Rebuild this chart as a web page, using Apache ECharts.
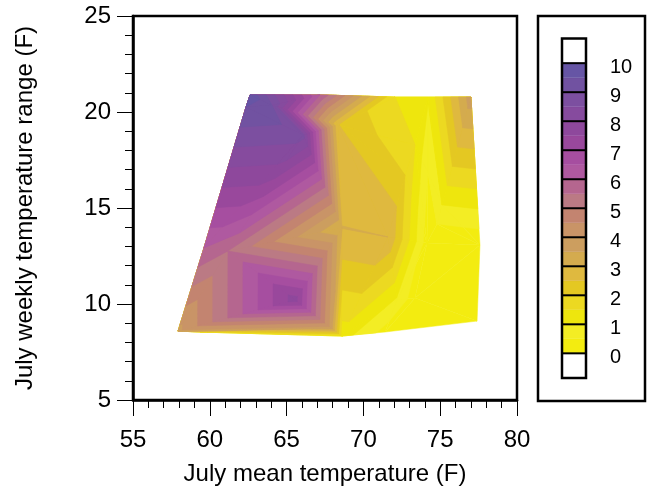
<!DOCTYPE html>
<html>
<head>
<meta charset="utf-8">
<style>html,body{margin:0;padding:0;background:#fff}#c{width:663px;height:489px}</style>
<script src="https://cdn.jsdelivr.net/npm/echarts@6/dist/echarts.min.js"></script>
</head>
<body>
<div id="c"></div>
<script>
// Surface samples: July mean temp (F), weekly range (F), contoured value
const nodeX = [62.62,67.17,72.06,74.21,77.0,62.36,64.05,66.07,68.35,73.36,72.71,74.21,75.12,74.79,59.62,61.18,68.61,71.60,74.14,77.59,65.55,72.19,73.36,77.40,71.41,68.61,67.89,59.36,57.93];
const nodeY = [20.89,20.89,20.78,20.78,20.78,20.26,20.36,18.80,19.32,18.28,16.72,16.82,15.16,14.17,12.92,12.76,13.96,13.49,13.18,13.07,10.21,10.21,10.31,9.11,8.54,8.33,8.75,8.54,8.59];
const nodeZ = [9.9,6,1.5,1.05,3.8,9.5,9.0,8.7,2.52,1.5,2,0.5,1,0.5,6,5.5,3.01,3.0,0.25,0.1,7.73,0.93,0.2,0.1,0.3,1.25,3.8,1.9,3.85];
const triangles = [
 [5,0,6],[0,6,1],[6,8,1],[8,2,1],[8,9,2],[9,2,3],[9,3,11],[11,3,12],[3,4,12],
 [4,19,12],[12,19,13],[11,12,13],[11,13,18],[13,19,18],[9,11,18],[9,18,10],[10,18,17],
 [8,10,9],[8,17,10],[8,16,17],[7,8,16],[7,6,8],[5,6,7],[5,7,14],[14,7,15],[15,7,16],
 [15,16,20],[20,16,26],[16,25,26],[16,17,25],[17,21,25],[17,18,21],[18,22,21],[21,22,24],
 [25,21,24],[22,23,24],[22,19,23],[18,19,22],[28,15,14],[28,20,15],[28,26,20],[28,27,26],[27,25,26]
];
const contourLevels = [0,0.5,1,1.5,2,2.5,3,3.5,4,4.5,5,5.5,6,6.5,7,7.5,8,8.5,9,9.5,10];
const bandColors = ['#f3ec10','#f3ed24','#eee60d','#ecd921','#e4c822','#dfb93f','#d4ab4e','#cc9e5f','#c99467','#c38470','#bb7a84','#b5668f','#af59a0','#a64ea0','#99489c','#8e489c','#864b9e','#7c4fa0','#7152a1','#6655a5'];
const legendTicks = [0,1,2,3,4,5,6,7,8,9,10];
const xTicksRange = [55,80];
const yTicksRange = [5,25];
const axisFont = '"Liberation Sans", Arial, sans-serif';

function clipAbove(poly, lv){ // keep part with z>=lv
  const out=[];
  for(let i=0;i<poly.length;i++){
    const a=poly[i], b=poly[(i+1)%poly.length];
    const ina=a[2]>=lv, inb=b[2]>=lv;
    if(ina) out.push(a);
    if(ina!==inb){const t=(lv-a[2])/(b[2]-a[2]);out.push([a[0]+t*(b[0]-a[0]),a[1]+t*(b[1]-a[1]),lv]);}
  }
  return out;
}
// Painter's fill: each band covers everything at or above its lower level
const bandPolys = bandColors.map((c,i)=>{
  const res=[];
  triangles.forEach(t=>{
    const poly=clipAbove(t.map(k=>[nodeX[k],nodeY[k],nodeZ[k]]),contourLevels[i]);
    if(poly.length>=3) res.push(poly);
  });
  return res;
});

const chart = echarts.init(document.getElementById('c'),null,{renderer:'canvas'});
const labelStyle={color:'#000',fontFamily:axisFont,fontSize:24};
const legendLabelStyle={color:'#000',fontFamily:axisFont,fontSize:20};
chart.setOption({
  animation:false,
  backgroundColor:'#fff',
  grid:[
    {left:133,top:16,width:384,height:384,show:true,borderColor:'#000',borderWidth:2.5,backgroundColor:'#fff',outerBoundsMode:'none'},
    {left:562,top:38.5,width:24,height:339.5,outerBoundsMode:'none'}
  ],
  graphic:[{type:'rect',shape:{x:538,y:16,width:107,height:385},style:{fill:'none',stroke:'#000',lineWidth:2.5},z:-1}],
  xAxis:[
    {type:'value',min:xTicksRange[0],max:xTicksRange[1],interval:5,
     name:'July mean temperature (F)',nameLocation:'middle',nameGap:62,nameTextStyle:labelStyle,
     axisLine:{onZero:false,lineStyle:{color:'#000',width:2.5}},
     axisTick:{length:16,lineStyle:{color:'#000',width:1}},
     minorTick:{show:true,splitNumber:5,length:8,lineStyle:{color:'#000',width:1}},
     axisLabel:Object.assign({margin:28},labelStyle),
     splitLine:{show:false}},
    {type:'value',gridIndex:1,min:0,max:1,show:false}
  ],
  yAxis:[
    {type:'value',min:yTicksRange[0],max:yTicksRange[1],interval:5,
     name:'July weekly temperature range (F)',nameLocation:'middle',nameGap:96,nameTextStyle:labelStyle,
     axisLine:{onZero:false,lineStyle:{color:'#000',width:2.5}},
     axisTick:{length:16,lineStyle:{color:'#000',width:1}},
     minorTick:{show:true,splitNumber:5,length:8,lineStyle:{color:'#000',width:1}},
     axisLabel:Object.assign({margin:22},labelStyle),
     splitLine:{show:false}},
    {type:'value',gridIndex:1,min:-0.85,max:10.85,position:'right',
     axisLine:{show:false},
     axisTick:{show:true,length:7,customValues:legendTicks,lineStyle:{color:'#000',width:1}},
     axisLabel:Object.assign({margin:24,customValues:legendTicks,verticalAlign:'top',lineHeight:8},legendLabelStyle),
     splitLine:{show:false}}
  ],
  series:[
    {type:'custom',coordinateSystem:'cartesian2d',xAxisIndex:0,yAxisIndex:0,silent:true,clip:false,
     data:bandColors.map((c,i)=>[i]),
     renderItem:(params,api)=>{
       const i=api.value(0),col=bandColors[i];
       return {type:'group',children:bandPolys[i].map(poly=>({
         type:'polygon',shape:{points:poly.map(p=>api.coord([p[0],p[1]]))},
         style:{fill:col,stroke:col,lineWidth:0.5}
       }))};
     }},
    {type:'custom',coordinateSystem:'cartesian2d',xAxisIndex:1,yAxisIndex:1,silent:true,clip:false,
     data:bandColors.map((c,i)=>[i]),
     renderItem:(params,api)=>{
       const i=api.value(0);
       const a=api.coord([0,contourLevels[i+1]]),b=api.coord([1,contourLevels[i]]);
       return {type:'rect',shape:{x:a[0],y:a[1],width:b[0]-a[0],height:b[1]-a[1]},style:{fill:bandColors[i],stroke:bandColors[i],lineWidth:0.3}};
     }},
    {type:'custom',coordinateSystem:'cartesian2d',xAxisIndex:1,yAxisIndex:1,silent:true,clip:false,z:5,
     data:legendTicks.map(v=>[v]),
     renderItem:(params,api)=>{
       const a=api.coord([0,api.value(0)]),b=api.coord([1,api.value(0)]);
       return {type:'line',shape:{x1:a[0],y1:a[1],x2:b[0],y2:b[1]},style:{stroke:'#000',lineWidth:2}};
     }},
    {type:'custom',coordinateSystem:'cartesian2d',xAxisIndex:1,yAxisIndex:1,silent:true,clip:false,z:5,
     data:[[0]],
     renderItem:(params,api)=>{
       const a=api.coord([0,10.85]),b=api.coord([1,-0.85]);
       return {type:'rect',shape:{x:a[0],y:a[1],width:b[0]-a[0],height:b[1]-a[1]},style:{fill:'none',stroke:'#000',lineWidth:2.5}};
     }}
  ]
});
</script>
</body>
</html>
